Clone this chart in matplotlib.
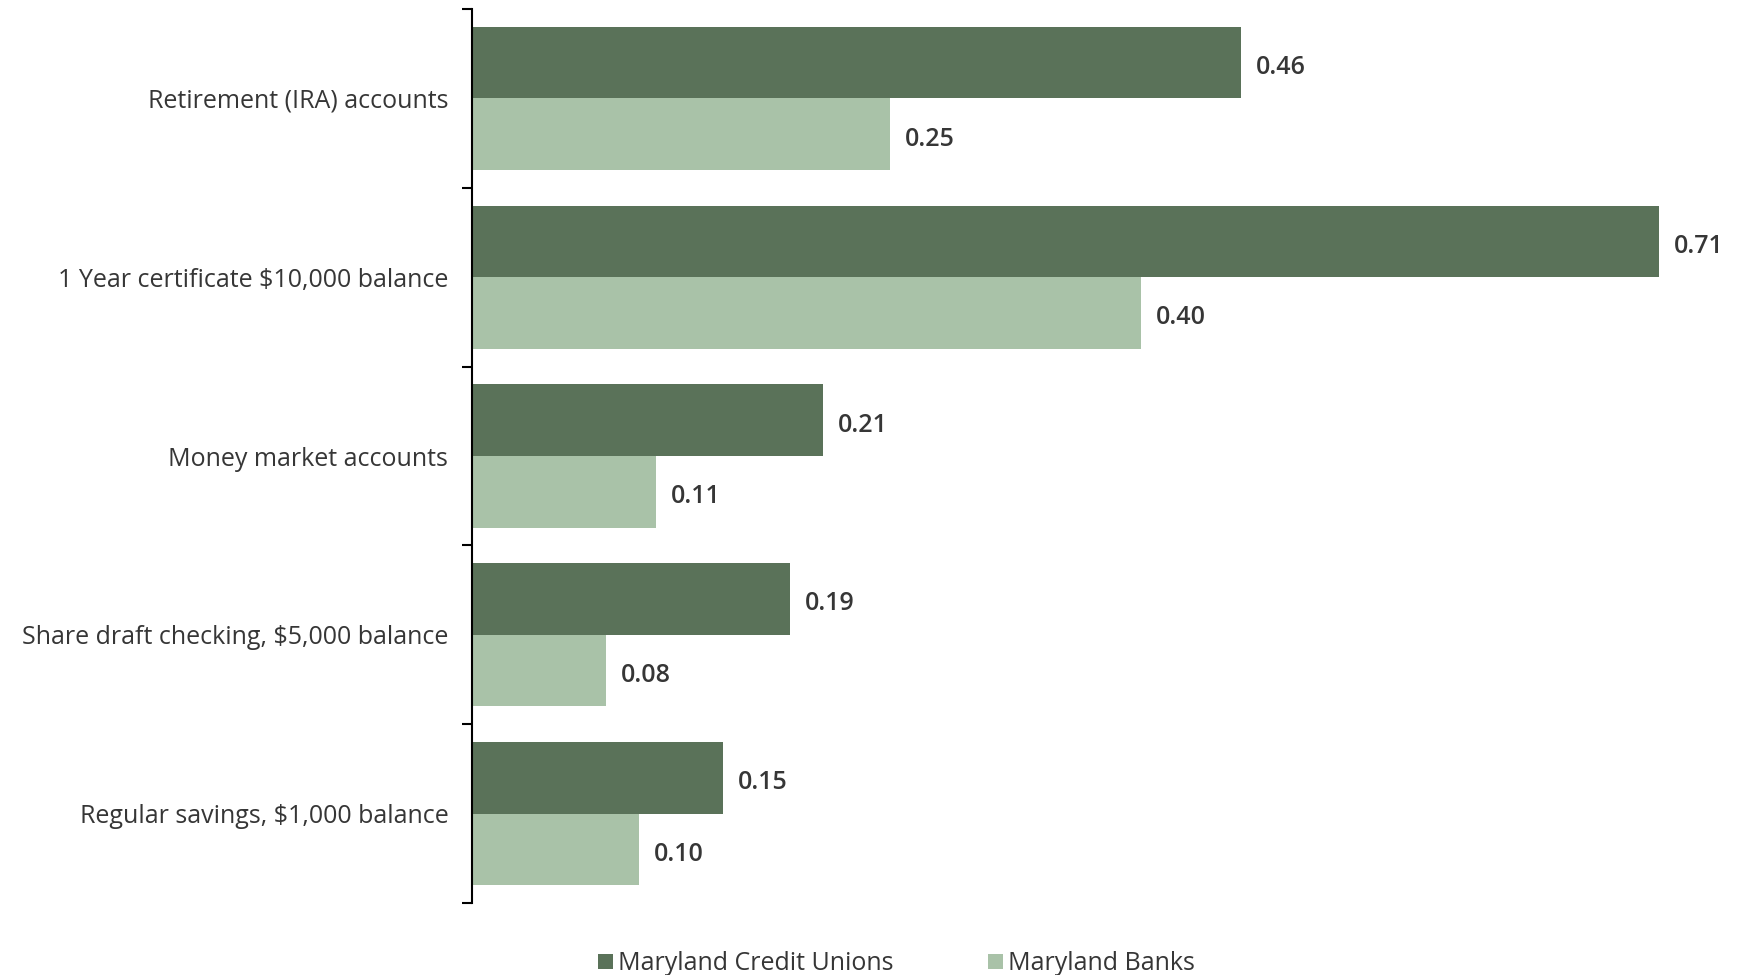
import matplotlib
matplotlib.use("Agg")
import matplotlib.pyplot as plt
import numpy as np

categories = [
    "Retirement (IRA) accounts",
    "1 Year certificate $10,000 balance",
    "Money market accounts",
    "Share draft checking, $5,000 balance",
    "Regular savings, $1,000 balance",
]
credit_unions = [0.46, 0.71, 0.21, 0.19, 0.15]
banks = [0.25, 0.40, 0.11, 0.08, 0.10]
series_names = ["Maryland Credit Unions", "Maryland Banks"]

DARK = "#5a7259"
LIGHT = "#a9c2a8"
TEXT = "#363636"

plt.rcParams["font.family"] = ["Open Sans", "DejaVu Sans"]

fig = plt.figure(figsize=(17.44, 9.75), dpi=100)
ax = fig.add_axes([0.2706, 0.0738, 0.7294, 0.917])

n = len(categories)
y = np.arange(n)
h = 0.4
b1 = ax.barh(y - h / 2, credit_unions, height=h, color=DARK, label=series_names[0])
b2 = ax.barh(y + h / 2, banks, height=h, color=LIGHT, label=series_names[1])

for bars, vals in ((b1, credit_unions), (b2, banks)):
    for rect, v in zip(bars, vals):
        ax.annotate(f"{v:.2f}", (v, rect.get_y() + rect.get_height() / 2),
                    xytext=(11, -3.5), textcoords="offset points",
                    va="center", ha="left", fontsize=18, color=TEXT,
                    fontweight="semibold")

ax.set_ylim(n - 0.5, -0.5)
ax.set_xlim(0, 0.761)

# boundary ticks on the spine, labels centred on each group
ax.set_yticks(np.arange(-0.5, n, 1.0))
ax.set_yticklabels([])
ax.set_yticks(y, minor=True)
ax.set_yticklabels(categories, minor=True, fontsize=18, color=TEXT)
ax.tick_params(axis="y", which="major", length=7, width=1.5, direction="out", color="black")
ax.tick_params(axis="y", which="minor", length=0, pad=17)
ax.set_xticks([])

for s in ("top", "right", "bottom"):
    ax.spines[s].set_visible(False)
ax.spines["left"].set_linewidth(1.5)
ax.spines["left"].set_color("black")

fig.legend(handles=[b1, b2], labels=series_names, loc="center",
           bbox_to_anchor=(0.514, 0.0115), ncol=2, frameon=False,
           fontsize=18, handlelength=0.6, handleheight=0.6, handletextpad=0.2,
           columnspacing=3.8, labelcolor=TEXT)

fig.savefig("out.png", dpi=100)
